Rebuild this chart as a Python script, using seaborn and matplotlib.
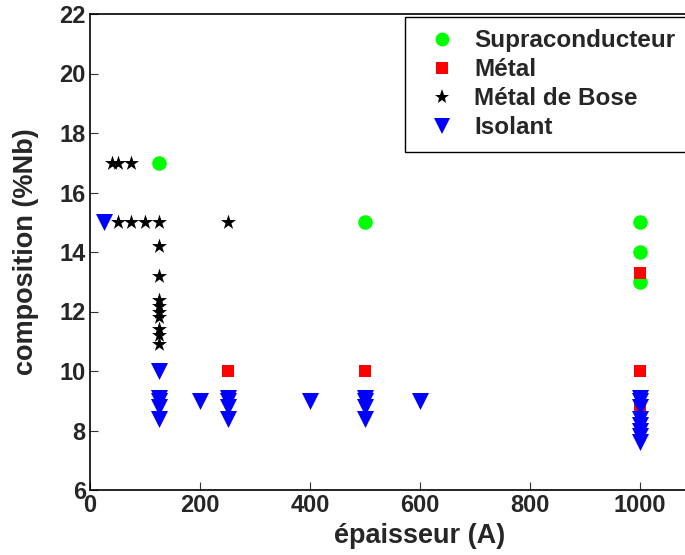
import numpy as np
import pandas as pd
import seaborn as sns
import matplotlib
matplotlib.use("Agg")
import matplotlib.pyplot as plt
from matplotlib.lines import Line2D

sns.set_style("white")
plt.rcParams['font.family'] = ['Liberation Sans', 'DejaVu Sans']
plt.rcParams['font.weight'] = 'bold'

categories = ["Supraconducteur", "Métal", "Métal de Bose", "Isolant"]

supra_x = [125, 500, 1000, 1000, 1000]
supra_y = [17, 15, 15, 14, 13]

metal_x = [250, 500, 1000, 1000, 1000]
metal_y = [10, 10, 13.3, 10, 8.8]

bose_x = [40, 50, 75, 50, 75, 100, 125, 125, 125, 125, 125, 125, 125, 125, 125, 125, 250]
bose_y = [17, 17, 17, 15, 15, 15, 15, 14.2, 13.2, 12.4, 12.2, 12.0, 11.8, 11.4, 11.2, 10.9, 15]

iso_x = [25, 125, 125, 125, 125, 125, 200, 250, 250, 250, 250, 400, 500, 500, 500, 500, 600,
         1000, 1000, 1000, 1000, 1000, 1000, 1000, 1000]
iso_y = [15, 10, 9.1, 9.0, 8.8, 8.4, 9.0, 9.1, 9.0, 8.8, 8.4, 9.0, 9.1, 9.0, 8.8, 8.4, 9.0,
         9.1, 9.0, 8.8, 8.4, 8.2, 8.0, 7.8, 7.6]

x_ticks = [0, 200, 400, 600, 800, 1000]
y_ticks = [6, 8, 10, 12, 14, 16, 18, 20, 22]

colors = {"Supraconducteur": "#00FF00", "Métal": "#FF0000", "Métal de Bose": "#000000", "Isolant": "#0000FF"}
markers = {"Supraconducteur": "o", "Métal": "s", "Métal de Bose": "*", "Isolant": "v"}
sizes = {"Supraconducteur": 110, "Métal": 80, "Métal de Bose": 130, "Isolant": 150}

frames = []
for cat, xs, ys in zip(categories, [supra_x, metal_x, bose_x, iso_x], [supra_y, metal_y, bose_y, iso_y]):
    frames.append(pd.DataFrame({"x": xs, "y": ys, "cat": cat}))
df = pd.concat(frames, ignore_index=True)

fig = plt.figure(figsize=(6.85, 5.55), dpi=100)
ax = fig.add_axes([90/685, 65/555, 660/685, 476/555])

for cat in categories:
    sub = df[df["cat"] == cat]
    sns.scatterplot(data=sub, x="x", y="y", ax=ax, color=colors[cat], marker=markers[cat],
                    s=sizes[cat], linewidth=0, legend=False, clip_on=False)

ax.set_xlim(0, 1200)
ax.set_ylim(6, 22)
ax.set_xticks(x_ticks)
ax.set_yticks(y_ticks)
ax.tick_params(direction='in', length=6, width=0.8, color='#333333', labelsize=17, pad=3,
               bottom=True, left=True, top=False, right=False)
for lab in ax.get_xticklabels() + ax.get_yticklabels():
    lab.set_fontweight('bold')
ax.set_xlabel("épaisseur (A)", fontsize=19.5, fontweight='bold')
ax.set_ylabel("composition (%Nb)", fontsize=19.5, fontweight='bold')
ax.yaxis.set_label_coords(-51/660, 0.5)
ax.xaxis.set_label_coords(0.5, -33/476)
for sp in ax.spines.values():
    sp.set_color('black')
    sp.set_linewidth(1.2)

handles = [Line2D([], [], linestyle='none', marker=markers[c], color=colors[c],
                  markersize={"Supraconducteur": 10, "Métal": 8, "Métal de Bose": 11, "Isolant": 11}[c],
                  markeredgewidth=0) for c in categories]
leg = ax.legend(handles, categories, loc='upper left', bbox_to_anchor=(405/685, 1 - 17/555),
                bbox_transform=fig.transFigure, frameon=True, fancybox=False, framealpha=1,
                edgecolor='black', prop={'size': 17.5, 'weight': 'bold'},
                handletextpad=0.3, labelspacing=0.25, borderpad=0.5, handlelength=2.05,
                borderaxespad=0)
leg.get_frame().set_linewidth(1.0)

fig.savefig("out.png", dpi=100)
